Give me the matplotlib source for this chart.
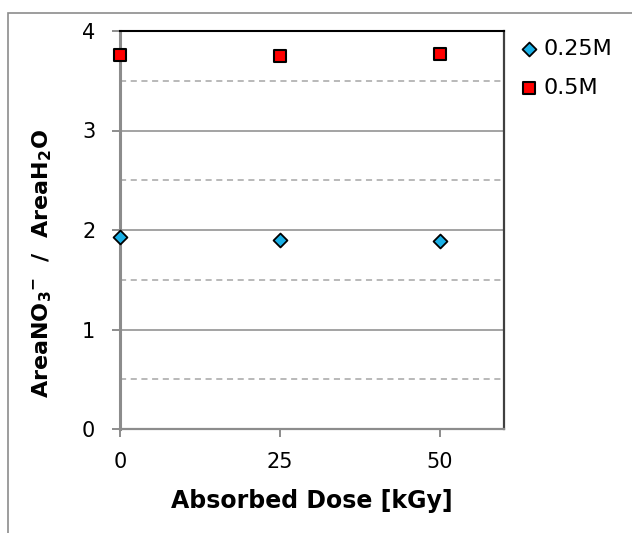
import matplotlib
matplotlib.use("Agg")
import matplotlib.pyplot as plt
from matplotlib.patches import Rectangle

# data
dose = [0, 25, 50]
ratio_025 = [1.93, 1.90, 1.89]
ratio_05 = [3.755, 3.75, 3.77]
x_ticks = [0, 25, 50]
y_ticks = [0, 1, 2, 3, 4]
y_half = [0.5, 1.5, 2.5, 3.5]

plt.rcParams["font.family"] = "DejaVu Sans"
plt.rcParams["mathtext.fontset"] = "dejavusans"

W, H = 632, 533
fig = plt.figure(figsize=(W / 100, H / 100), dpi=100)
ax = fig.add_axes([120 / W, 1 - 429 / H, 384 / W, 398 / H])

# outer chart border (right and bottom edges fall outside the image)
fig.patches.append(Rectangle((8 / W, -0.05), 1.0, 1 - 13 / H + 0.05,
                             transform=fig.transFigure, fill=False,
                             edgecolor="#8c8c8c", linewidth=1.2))

for y in y_ticks[1:]:
    ax.axhline(y, color="#8a8a8a", linewidth=1.1, zorder=0)
for y in y_half:
    ax.axhline(y, color="#a6a6a6", linewidth=1.1, linestyle=(0, (4, 3)), zorder=0)

ax.scatter(dose, ratio_025, marker="D", s=50, color="#1ab0e6",
           edgecolor="black", linewidth=1.3, label="0.25M", zorder=3, clip_on=False)
ax.scatter(dose, ratio_05, marker="s", s=85, color="#ff0000",
           edgecolor="black", linewidth=1.5, label="0.5M", zorder=3, clip_on=False)

ax.set_xlim(0, 60)
ax.set_ylim(0, 4)
ax.set_xticks(x_ticks)
ax.set_yticks(y_ticks)

ax.spines["left"].set_color("#8c8c8c")
ax.spines["left"].set_linewidth(2.2)
ax.spines["bottom"].set_color("#8c8c8c")
ax.spines["bottom"].set_linewidth(1.6)
ax.spines["top"].set_color("black")
ax.spines["top"].set_linewidth(1.5)
ax.spines["right"].set_color("#404040")
ax.spines["right"].set_linewidth(1.6)

ax.tick_params(axis="both", direction="out", length=5.8, width=1.4,
               color="#8c8c8c", labelsize=15, labelcolor="black")
ax.tick_params(axis="y", pad=12)
ax.tick_params(axis="x", pad=11)

fig.text(312 / W, 1 - 501 / H, "Absorbed Dose [kGy]", fontsize=17,
         fontweight="bold", ha="center", va="center")
fig.text(42 / W, 1 - 264 / H,
         r"AreaNO$_\mathbf{3}$$^\mathbf{-}$  /  AreaH$_\mathbf{2}$O",
         fontsize=16, fontweight="bold", rotation=90, ha="center", va="center")

ax.legend(loc="upper left", bbox_to_anchor=(522.5 / W, 1 - 39 / H),
          bbox_transform=fig.transFigure, frameon=False, fontsize=16,
          scatterpoints=1, handlelength=0.6, handletextpad=0.36,
          labelspacing=0.86, borderpad=0, borderaxespad=0)

fig.savefig("out.png", dpi=100)
